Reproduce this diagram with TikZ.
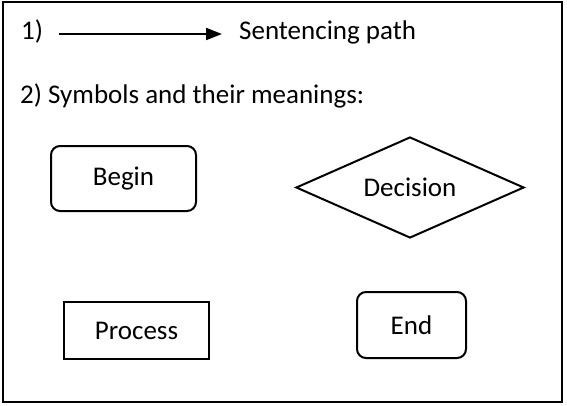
\documentclass[tikz,border=0pt]{standalone}
\usepackage{fontspec}
\setmainfont{Carlito}
\usetikzlibrary{shapes.geometric,arrows.meta}
\begin{document}
\begin{tikzpicture}[x=1pt,y=-1pt,
  every node/.style={font=\fontsize{27}{31}\selectfont, text=black},
  label/.style={anchor=base west, inner sep=0pt},
  shapebox/.style={draw, line width=2pt, inner sep=0pt},
  roundbox/.style={shapebox, rounded corners=9pt},
  pathline/.style={line width=2pt, -{Triangle[length=16pt,width=12pt]}}]
  \useasboundingbox (0,0) rectangle (567,405);
  % outer frame
  \node[draw, line width=2.2pt, minimum width=559pt, minimum height=400pt, inner sep=0pt] (frame) at (282.5,202) {};
  % legend line 1
  \node[label] (one) at (21,39) {1)};
  \coordinate (arrowstart) at (59,34);
  \coordinate (arrowend) at (222,34);
  \draw[pathline] (arrowstart) -- (arrowend);
  \node[label] (sent) at (239,39) {Sentencing path};
  % legend line 2
  \node[label] (two) at (20,103) {2) Symbols and their meanings:};
  % symbols
  \node[roundbox, minimum width=145pt, minimum height=65pt] (begin) at (123.5,178.5) {Begin};
  \node[shapebox, diamond, shape aspect=2.26, minimum width=228pt, minimum height=101pt] (decision) at (410,187.5) {Decision};
  \node[shapebox, minimum width=145pt, minimum height=57pt] (process) at (136.5,330.5) {Process};
  \node[roundbox, minimum width=109pt, minimum height=66pt] (end) at (411.5,325) {End};
\end{tikzpicture}
\end{document}
